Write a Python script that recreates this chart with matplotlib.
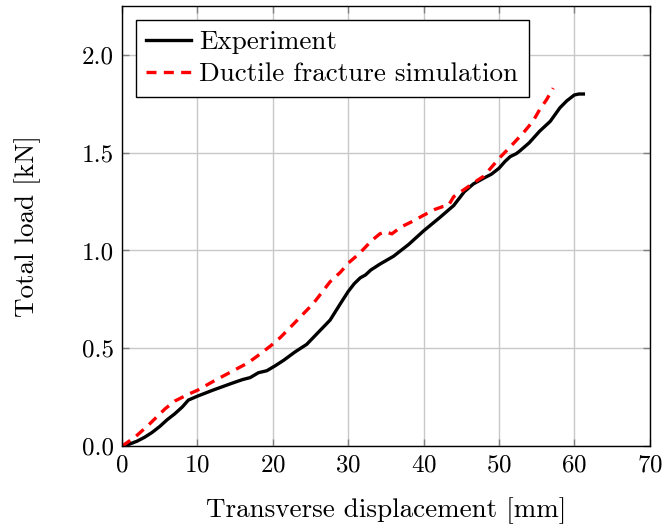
import numpy as np
import matplotlib
matplotlib.use('Agg')
import matplotlib.pyplot as plt
from matplotlib.ticker import FormatStrFormatter

plt.rcParams['font.family'] = 'serif'
plt.rcParams['font.serif'] = ['cmr10']
plt.rcParams['mathtext.fontset'] = 'cm'
plt.rcParams['axes.formatter.use_mathtext'] = True

# experiment load-displacement curve
exp_x = [0, 1, 2, 3, 4, 5, 6, 7, 8, 8.8, 10, 12, 14.5, 16, 17, 18.1, 19.2, 20.3, 21.5, 22.9, 24.5, 26, 27.6, 29, 30, 30.8, 31.6, 32.3, 33, 34.2,
         36, 38, 40, 42.2, 44, 45.4, 46.6, 48, 49, 50, 50.8, 51.5, 52.3, 52.8, 54, 55.4, 56.8, 58.1, 59, 60, 60.6, 61.2]
exp_y = [0, 0.01, 0.025, 0.045, 0.07, 0.10, 0.135, 0.165, 0.20, 0.235, 0.255, 0.285, 0.32, 0.34, 0.35, 0.375, 0.385, 0.41, 0.44, 0.48, 0.52, 0.58, 0.644, 0.73, 0.79, 0.83, 0.86, 0.875, 0.90, 0.93,
         0.97, 1.03, 1.10, 1.17, 1.23, 1.30, 1.34, 1.37, 1.39, 1.42, 1.455, 1.48, 1.495, 1.51, 1.55, 1.61, 1.66, 1.73, 1.765, 1.795, 1.80, 1.80]

# simulation curve
sim_x = [0, 1.7, 3.5, 5.7, 7, 8.8, 10, 12.3, 14.5, 16.7, 18.3, 19.8, 21, 22.9, 25.4, 27.6, 29, 30, 31.5, 33.1, 34.2, 34.9, 35.8,
         37, 38.6, 40, 41.5, 42.6, 43.3, 44, 45.7, 47, 48, 50, 51.5, 53.2, 54.5, 55.4, 56.3, 57.2]
sim_y = [0, 0.045, 0.107, 0.19, 0.23, 0.265, 0.285, 0.335, 0.38, 0.425, 0.47, 0.515, 0.555, 0.63, 0.73, 0.84, 0.89, 0.935, 0.985, 1.05, 1.085, 1.096, 1.085,
         1.12, 1.15, 1.18, 1.21, 1.225, 1.23, 1.275, 1.32, 1.355, 1.38, 1.47, 1.53, 1.60, 1.66, 1.72, 1.77, 1.83]

x_ticks = np.arange(0, 71, 10)
y_ticks = np.arange(0, 2.01, 0.5)

fig = plt.figure(figsize=(6.65, 5.26), dpi=100)
ax = fig.add_axes([0.1835, 0.152, 0.7935, 0.8366])

ax.plot(exp_x, exp_y, color='black', linewidth=2.4, label='Experiment')
ax.plot(sim_x, sim_y, color='red', linewidth=2.4, linestyle=(0, (3, 2.2)), label='Ductile fracture simulation')

ax.set_xlim(0, 70)
ax.set_ylim(0, 2.25)
ax.set_xticks(x_ticks)
ax.set_yticks(y_ticks)
ax.yaxis.set_major_formatter(FormatStrFormatter('%.1f'))
ax.grid(True, color='#c8c8c8', linewidth=1.0)
ax.set_axisbelow(True)
ax.tick_params(direction='in', top=True, right=True, length=5, width=1, color='#808080',
               labelsize=18, pad=6)
for s in ax.spines.values():
    s.set_linewidth(1.0)

ax.set_xlabel('Transverse displacement [mm]', fontsize=19.5, labelpad=15)
ax.set_ylabel('Total load [kN]', fontsize=19.5, labelpad=29)

leg = ax.legend(loc='upper left', fontsize=19.5, fancybox=False, edgecolor='black', framealpha=1,
                borderaxespad=0.5, handlelength=1.65, handletextpad=0.3, borderpad=0.4, labelspacing=0.3)
leg.get_frame().set_linewidth(1.0)

fig.savefig('out.png', dpi=100)
